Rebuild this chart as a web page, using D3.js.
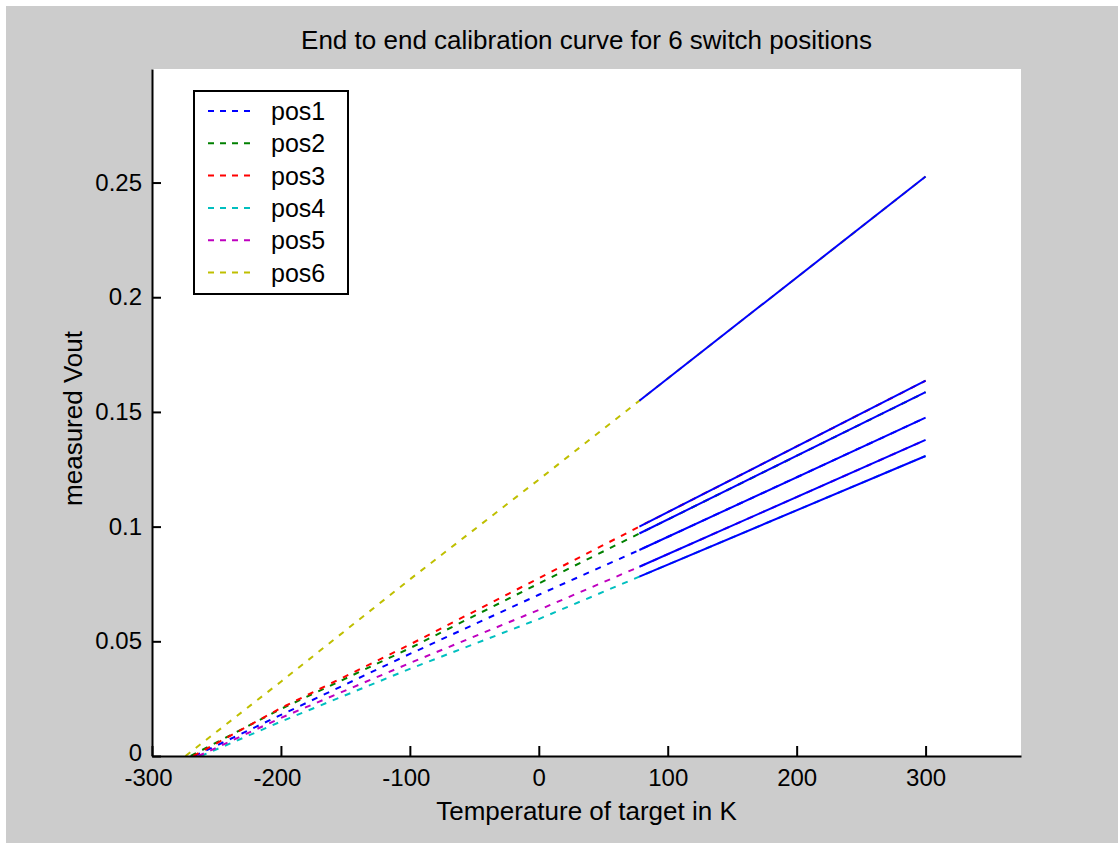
<!DOCTYPE html>
<html>
<head>
<meta charset="utf-8">
<script src="https://cdn.jsdelivr.net/npm/d3@7"></script>
<style>
  body { margin: 0; background: #ffffff; }
  text { font-family: "Liberation Sans", Arial, sans-serif; fill: #000; }
</style>
</head>
<body>
<div id="chart"></div>
<script>
const temps = [-200, -100, 0, 78, 300];
const seriesNames = ["pos1", "pos2", "pos3", "pos4", "pos5", "pos6"];
const seriesColors = ["#0000ff", "#008000", "#ff0000", "#00bfbf", "#bf00bf", "#bfbf00"];
// temperature where each dashed curve meets 0
const zeroTemps = [-267, -270, -268, -262, -264, -274];
const pos1 = [0.0179, 0.0445, 0.0703, 0.0898, 0.1475];
const pos2 = [0.0205, 0.0470, 0.0752, 0.0970, 0.1586];
const pos3 = [0.0209, 0.0486, 0.0775, 0.1000, 0.1636];
const pos4 = [0.0150, 0.0380, 0.0597, 0.0782, 0.1308];
const pos5 = [0.0166, 0.0405, 0.0637, 0.0825, 0.1378];
const pos6 = [0.0324, 0.0770, 0.1205, 0.1549, 0.2526];
const seriesValues = [pos1, pos2, pos3, pos4, pos5, pos6];
// measured range, drawn solid blue
const measStart = 78;

const xTicks = [-300, -200, -100, 0, 100, 200, 300];
const yTicks = [0, 0.05, 0.1, 0.15, 0.2, 0.25];

const W = 1118, H = 843;
const margin = { top: 69, right: 97, bottom: 87, left: 152 };
const width = W - margin.left - margin.right;
const height = H - margin.top - margin.bottom;

const svg = d3.select("#chart").append("svg")
    .attr("width", W)
    .attr("height", H);

// figure background
svg.append("rect")
    .attr("x", 6).attr("y", 6)
    .attr("width", W - 6).attr("height", H - 6)
    .attr("fill", "#cccccc");

const g = svg.append("g")
    .attr("transform", `translate(${margin.left}, ${margin.top})`);

g.append("rect")
    .attr("width", width).attr("height", height)
    .attr("fill", "#ffffff");

const xScale = d3.scaleLinear().domain([-300, 374]).range([0, width]);
const yScale = d3.scaleLinear().domain([0, 0.2995]).range([height, 0]);

const line = d3.line()
    .x(d => xScale(d.t))
    .y(d => yScale(d.v));

// dashed curves, one per switch position
seriesNames.forEach((name, i) => {
    const pts = [{ t: zeroTemps[i], v: 0 }]
        .concat(temps.map((t, j) => ({ t: t, v: seriesValues[i][j] })));
    g.append("path")
        .datum(pts)
        .attr("fill", "none")
        .attr("stroke", seriesColors[i])
        .attr("stroke-width", 2)
        .attr("stroke-dasharray", "6,7")
        .attr("d", line);
});

// solid blue measured segments on top
seriesNames.forEach((name, i) => {
    const pts = temps.map((t, j) => ({ t: t, v: seriesValues[i][j] }))
        .filter(d => d.t >= measStart);
    g.append("path")
        .datum(pts)
        .attr("fill", "none")
        .attr("stroke", "#0000ff")
        .attr("stroke-width", 2)
        .attr("d", line);
});

const fmtX = d => d < 0 ? "-" + Math.abs(d) : String(d);
const xAxis = d3.axisBottom(xScale).tickValues(xTicks).tickFormat(fmtX)
    .tickSizeInner(-10).tickSizeOuter(0).tickPadding(13);
const yAxis = d3.axisLeft(yScale).tickValues(yTicks).tickFormat(d => String(+d.toFixed(2)))
    .tickSizeInner(-9).tickSizeOuter(0).tickPadding(10);

const gx = g.append("g")
    .attr("transform", `translate(0, ${height})`)
    .call(xAxis);
const gy = g.append("g").call(yAxis);

[gx, gy].forEach(a => {
    a.select(".domain").attr("stroke", "#000").attr("stroke-width", 2);
    a.selectAll(".tick line").attr("stroke", "#000").attr("stroke-width", 2);
    a.selectAll(".tick text").attr("font-size", 24)
        .attr("font-family", "Liberation Sans, Arial, sans-serif");
});
gx.selectAll(".tick text").attr("dx", d => d < 0 ? -4 : 0);
// the "0" label sits just above "-300", as in the original
gy.selectAll(".tick text").attr("dy", d => d === 0 ? "0.2em" : "0.32em");

// title and axis labels
svg.append("text")
    .attr("x", margin.left + width / 2)
    .attr("y", 49)
    .attr("text-anchor", "middle")
    .attr("font-size", 26)
    .text("End to end calibration curve for 6 switch positions");

svg.append("text")
    .attr("x", margin.left + width / 2)
    .attr("y", 820)
    .attr("text-anchor", "middle")
    .attr("font-size", 26)
    .text("Temperature of target in K");

svg.append("text")
    .attr("transform", `translate(82, ${margin.top + height / 2 + 6}) rotate(-90)`)
    .attr("text-anchor", "middle")
    .attr("font-size", 26)
    .text("measured Vout");

// legend
const legend = svg.append("g").attr("transform", "translate(194, 91)");
legend.append("rect")
    .attr("width", 154).attr("height", 203)
    .attr("fill", "#ffffff")
    .attr("stroke", "#000")
    .attr("stroke-width", 2);

const rowY = d3.scalePoint().domain(seriesNames).range([20, 181.5]);
seriesNames.forEach((name, i) => {
    const row = legend.append("g").attr("transform", `translate(0, ${rowY(name)})`);
    row.append("line")
        .attr("x1", 14).attr("x2", 57)
        .attr("stroke", seriesColors[i])
        .attr("stroke-width", 2)
        .attr("stroke-dasharray", "6,6");
    row.append("text")
        .attr("x", 77)
        .attr("y", 9)
        .attr("font-size", 25)
        .text(name);
});
</script>
</body>
</html>
